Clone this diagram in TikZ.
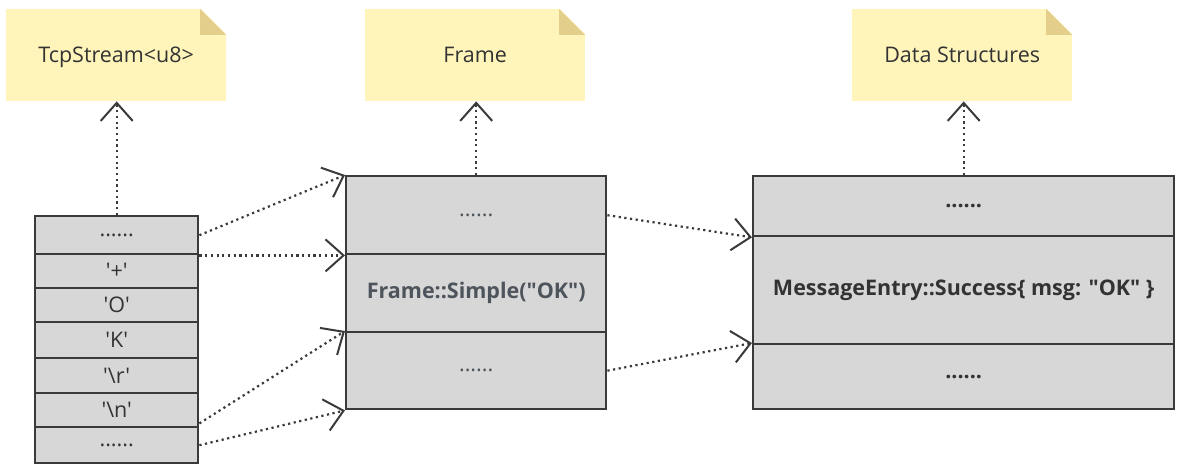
\documentclass[tikz,border=0pt]{standalone}
\usepackage{fontspec}
\setmainfont{Open Sans}[Ligatures=TeXOff]
\usetikzlibrary{arrows.meta}
\definecolor{noteY}{HTML}{FFF5BA}
\definecolor{noteF}{HTML}{E3CE8B}
\definecolor{boxF}{HTML}{D7D7D7}
\definecolor{boxL}{HTML}{3A3A3A}
\definecolor{txtD}{HTML}{333333}
\definecolor{txtG}{HTML}{4E545C}
\newcommand\sq{\symbol{39}}
\newcommand\dq{\symbol{34}}
\tikzset{
  x=1pt, y=-1pt,
  notebox/.style={fill=noteY, minimum width=220pt, minimum height=92pt, anchor=north west, inner sep=0pt, text=txtD, text height=19pt, text depth=5pt, font=\fontsize{21.5}{24}\selectfont},
  rowbox/.style={draw=boxL, fill=boxF, line width=2.4pt, anchor=north west, inner sep=0pt, text=txtD, font=\fontsize{21.5}{24}\selectfont},
  conn/.style={draw=boxL, line width=2.2pt, dash pattern=on 2.2pt off 3.5pt, -{Straight Barb[length=18pt, width=32pt, line width=2pt]}},
}
\begin{document}
\begin{tikzpicture}
\useasboundingbox[fill=white] (0,0) rectangle (1194,476);
% notes
\foreach \nm/\xx/\tx in {n1/6/TcpStream{<}u8{>}, n2/365/Frame, n3/852/Data Structures}{
  \node[notebox] (\nm) at (\xx,9) {\tx};
  \fill[white] (\xx+194,8) -- (\xx+221,8) -- (\xx+221,35) -- cycle;
  \fill[noteF] (\xx+194,9) -- (\xx+194,35) -- (\xx+220,35) -- cycle;
}
% left stack
\node[rowbox, minimum width=163pt, minimum height=38pt] (l1) at (34,215) {......};
\node[rowbox, minimum width=163pt, minimum height=34pt] (l2) at (34,253) {\sq+\sq};
\node[rowbox, minimum width=163pt, minimum height=34pt] (l3) at (34,287) {\sq O\sq};
\node[rowbox, minimum width=163pt, minimum height=36pt] (l4) at (34,321) {\sq K\sq};
\node[rowbox, minimum width=163pt, minimum height=35pt] (l5) at (34,357) {\sq\textbackslash r\sq};
\node[rowbox, minimum width=163pt, minimum height=34pt] (l6) at (34,392) {\sq\textbackslash n\sq};
\node[rowbox, minimum width=163pt, minimum height=36pt] (l7) at (34,426) {......};
% middle stack
\node[rowbox, minimum width=260pt, minimum height=78pt, text=txtG] (m1) at (345,175) {......};
\node[rowbox, minimum width=260pt, minimum height=78pt, text=txtG, font=\fontsize{21.5}{24}\selectfont\bfseries] (m2) at (345,253) {Frame::Simple(\dq OK\dq)};
\node[rowbox, minimum width=260pt, minimum height=77pt, text=txtG] (m3) at (345,331) {......};
% right stack
\node[rowbox, minimum width=421pt, minimum height=60pt, font=\fontsize{21.5}{24}\selectfont\bfseries] (r1) at (752,175) {......};
\node[rowbox, minimum width=421pt, minimum height=108pt, font=\fontsize{21.5}{24}\selectfont\bfseries] (r2) at (752,235) {MessageEntry::Success\{ msg: \dq OK\dq\ \}};
\node[rowbox, minimum width=421pt, minimum height=65pt, font=\fontsize{21.5}{24}\selectfont\bfseries] (r3) at (752,343) {......};
% upward connectors
\draw[conn] (l1.north) -- (n1.south -| l1.north);
\draw[conn] (m1.north) -- (n2.south -| m1.north);
\draw[conn] (r1.north) -- (n3.south -| r1.north);
% left to middle
\draw[conn] (l1.east) -- (m1.north west);
\draw[conn] (l1.south east) -- (m1.south west);
\draw[conn] ([yshift=5pt]l6.south east) -- (m3.north west);
\draw[conn] (l7.east) -- (m3.south west);
% middle to right
\draw[conn] (m1.east) -- (r1.south west);
\draw[conn] (m3.east) -- (r3.north west);
\end{tikzpicture}
\end{document}
